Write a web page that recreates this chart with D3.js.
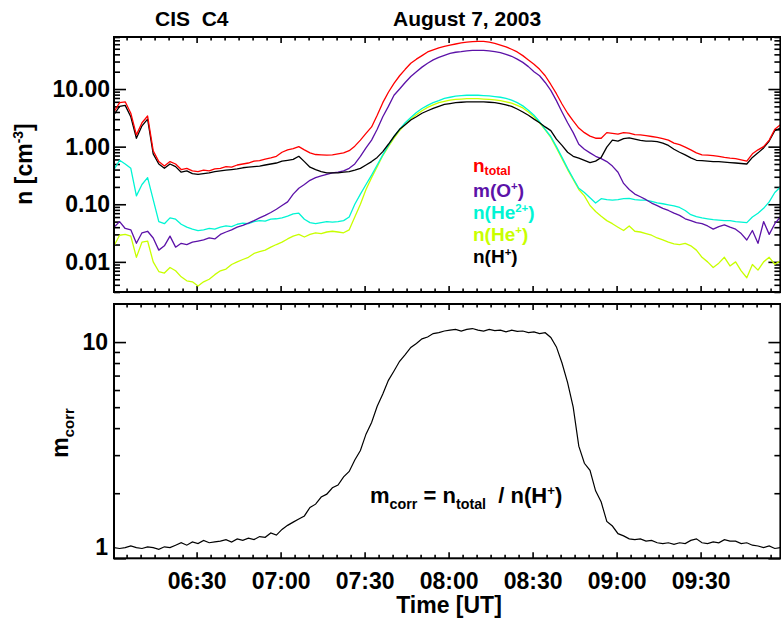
<!DOCTYPE html>
<html><head><meta charset="utf-8">
<script src="https://cdn.jsdelivr.net/npm/d3@7"></script>
<style>
html,body{margin:0;padding:0;background:#fff;}
svg{display:block;font-family:"Liberation Sans",Arial,Helvetica,sans-serif;font-weight:bold;}
</style></head><body>
<svg id="chart" width="781" height="618"></svg>
<script>
// ---------- DATA ----------
const startMin = 360.5, stepMin = 2;           // 06:00:30 UT, 2-minute samples
const times = d3.range(120).map(i => startMin + stepMin * i);

const nTotal = [
4.0, 5.8, 6.0, 3.8, 1.6, 2.6, 3.4, 0.85, 0.55, 0.46,
0.55, 0.50, 0.40, 0.42, 0.38, 0.37, 0.39, 0.38, 0.41, 0.42,
0.45, 0.44, 0.48, 0.50, 0.52, 0.56, 0.57, 0.61, 0.64, 0.68,
0.80, 0.88, 0.92, 1.00, 0.88, 0.78, 0.73, 0.72, 0.71, 0.72,
0.75, 0.78, 0.85, 1.02, 1.3, 1.7, 2.2, 3.5, 5.8, 8.8,
12.5, 17, 22, 28, 33, 38, 44, 48, 52, 55,
58, 60.5, 63, 65, 66.5, 67, 67, 65, 62, 58,
54, 49, 44, 38, 32, 27, 22, 17, 12, 8.3,
5.5, 3.8, 2.8, 2.1, 1.75, 1.52, 1.40, 1.40, 1.75, 1.70,
1.65, 1.75, 1.72, 1.62, 1.60, 1.55, 1.50, 1.45, 1.38, 1.30,
1.15, 1.08, 0.98, 0.88, 0.78, 0.72, 0.71, 0.70, 0.68, 0.65,
0.63, 0.62, 0.59, 0.56, 0.75, 0.88, 1.0, 1.3, 2.0, 2.4
];
const nH = [
3.6, 5.0, 5.2, 3.3, 1.4, 2.3, 3.0, 0.75, 0.50, 0.42,
0.50, 0.45, 0.36, 0.38, 0.34, 0.33, 0.34, 0.35, 0.37, 0.38,
0.39, 0.40, 0.41, 0.43, 0.44, 0.45, 0.46, 0.48, 0.50, 0.52,
0.56, 0.58, 0.60, 0.68, 0.55, 0.44, 0.40, 0.37, 0.35, 0.35,
0.35, 0.36, 0.37, 0.39, 0.42, 0.48, 0.55, 0.65, 0.82, 1.1,
1.5, 2.0, 2.4, 2.9, 3.3, 3.8, 4.2, 4.6, 5.0, 5.4,
5.6, 5.8, 5.9, 6.0, 6.0, 6.0, 6.0, 5.9, 5.8, 5.6,
5.3, 5.0, 4.5, 4.0, 3.5, 3.0, 2.6, 2.2, 1.9, 1.35,
1.05, 0.80, 0.68, 0.63, 0.58, 0.53, 0.56, 0.65, 0.98, 1.30,
1.25, 1.38, 1.42, 1.35, 1.28, 1.25, 1.25, 1.22, 1.15, 1.05,
0.90, 0.80, 0.72, 0.64, 0.58, 0.57, 0.56, 0.55, 0.55, 0.54,
0.53, 0.52, 0.51, 0.50, 0.65, 0.78, 0.95, 1.25, 1.9, 2.1
];
const nO = [
0.040, 0.050, 0.038, 0.036, 0.021, 0.032, 0.034, 0.026, 0.016, 0.019,
0.028, 0.018, 0.021, 0.020, 0.022, 0.023, 0.024, 0.026, 0.025, 0.030,
0.033, 0.036, 0.040, 0.043, 0.047, 0.052, 0.058, 0.064, 0.072, 0.082,
0.095, 0.11, 0.15, 0.19, 0.22, 0.26, 0.29, 0.31, 0.33, 0.35,
0.36, 0.38, 0.42, 0.50, 0.68, 0.95, 1.3, 2.0, 3.3, 5.0,
7.8, 10, 13, 16.5, 20, 24, 28, 32, 35.5, 38.5,
41.5, 43.5, 44.5, 46, 47, 47, 47, 46, 44.5, 43,
40, 37, 33, 29, 24.5, 20, 17, 13, 9.5, 6.3,
4.0, 2.6, 1.75, 1.1, 0.90, 0.78, 0.68, 0.62, 0.55, 0.46,
0.36, 0.23, 0.18, 0.15, 0.135, 0.12, 0.105, 0.095, 0.085, 0.078,
0.070, 0.064, 0.056, 0.052, 0.048, 0.046, 0.042, 0.037, 0.041, 0.044,
0.040, 0.037, 0.031, 0.024, 0.035, 0.021, 0.050, 0.030, 0.046, 0.060
];
const nHe2 = [
0.40, 0.58, 0.50, 0.42, 0.14, 0.22, 0.29, 0.12, 0.050, 0.046,
0.058, 0.055, 0.045, 0.040, 0.037, 0.035, 0.036, 0.038, 0.037, 0.040,
0.042, 0.041, 0.045, 0.047, 0.046, 0.050, 0.052, 0.051, 0.055, 0.056,
0.058, 0.062, 0.068, 0.070, 0.055, 0.048, 0.046, 0.048, 0.050, 0.049,
0.050, 0.052, 0.060, 0.10, 0.15, 0.22, 0.32, 0.48, 0.72, 1.05,
1.5, 2.0, 2.6, 3.2, 3.9, 4.6, 5.2, 5.8, 6.3, 6.9,
7.2, 7.5, 7.7, 7.8, 7.8, 7.8, 7.7, 7.6, 7.4, 7.2,
6.9, 6.4, 5.8, 5.1, 4.3, 3.5, 2.7, 2.0, 1.5, 1.0,
0.65, 0.42, 0.28, 0.19, 0.16, 0.13, 0.105, 0.125, 0.12, 0.118,
0.12, 0.125, 0.127, 0.12, 0.118, 0.118, 0.112, 0.106, 0.102, 0.098,
0.094, 0.088, 0.078, 0.066, 0.061, 0.058, 0.056, 0.054, 0.053, 0.052,
0.052, 0.050, 0.049, 0.048, 0.060, 0.070, 0.085, 0.11, 0.16, 0.20
];
const nHe1 = [
0.019, 0.029, 0.030, 0.028, 0.012, 0.022, 0.023, 0.010, 0.0068, 0.0064,
0.0080, 0.0070, 0.0055, 0.0047, 0.0045, 0.0038, 0.0045, 0.0050, 0.0060, 0.0070,
0.0075, 0.0090, 0.0100, 0.0110, 0.012, 0.014, 0.015, 0.016, 0.018, 0.020,
0.022, 0.025, 0.028, 0.030, 0.027, 0.030, 0.032, 0.031, 0.033, 0.034,
0.033, 0.032, 0.036, 0.060, 0.10, 0.18, 0.29, 0.45, 0.70, 1.0,
1.4, 1.9, 2.45, 3.0, 3.6, 4.2, 4.8, 5.3, 5.8, 6.1,
6.4, 6.6, 6.7, 6.8, 6.8, 6.8, 6.7, 6.6, 6.5, 6.3,
6.0, 5.7, 5.2, 4.7, 4.0, 3.3, 2.6, 1.95, 1.45, 0.95,
0.62, 0.40, 0.27, 0.18, 0.14, 0.095, 0.075, 0.062, 0.052, 0.046,
0.040, 0.035, 0.042, 0.034, 0.033, 0.031, 0.029, 0.026, 0.024, 0.022,
0.0205, 0.020, 0.021, 0.019, 0.016, 0.012, 0.010, 0.008, 0.0095, 0.012,
0.0085, 0.010, 0.0070, 0.0053, 0.0090, 0.0072, 0.010, 0.012, 0.0091, 0.0104
];
const mCorr = [
1.12, 1.11, 1.12, 1.14, 1.12, 1.11, 1.13, 1.12, 1.10, 1.13,
1.12, 1.15, 1.18, 1.15, 1.19, 1.17, 1.21, 1.18, 1.19, 1.20,
1.22, 1.19, 1.23, 1.21, 1.24, 1.22, 1.26, 1.25, 1.31, 1.28,
1.36, 1.42, 1.47, 1.52, 1.57, 1.72, 1.78, 1.92, 1.98, 2.12,
2.18, 2.38, 2.52, 2.85, 3.15, 3.75, 4.25, 5.05, 5.75, 6.65,
7.35, 8.15, 8.75, 9.45, 9.85, 10.35, 10.55, 10.95, 11.05, 11.25,
11.35, 11.45, 11.25, 11.45, 11.55, 11.35, 11.25, 11.45, 11.3, 11.35,
11.15, 11.35, 11.2, 11.25, 11.05, 11.15, 10.95, 11.05, 10.5, 9.5,
8.0, 6.5, 5.0, 3.3, 2.75, 2.55, 2.05, 1.82, 1.48, 1.41,
1.30, 1.27, 1.23, 1.22, 1.23, 1.20, 1.21, 1.18, 1.17, 1.18,
1.16, 1.18, 1.17, 1.21, 1.23, 1.18, 1.17, 1.19, 1.18, 1.22,
1.20, 1.20, 1.17, 1.18, 1.15, 1.14, 1.12, 1.14, 1.11, 1.12
];

const xMajorTicks = [390, 420, 450, 480, 510, 540, 570];
const xTickLabels = ["06:30", "07:00", "07:30", "08:00", "08:30", "09:00", "09:30"];
const yTopTicks = [0.01, 0.1, 1, 10];
const yTopLabels = ["0.01", "0.10", "1.00", "10.00"];
const yBotTicks = [1, 10];
const yBotLabels = ["1", "10"];

const seriesTop = [
  {name: "nHe1", values: nHe1, color: "#c8ff00"},
  {name: "nHe2", values: nHe2, color: "#00f5d4"},
  {name: "nO",   values: nO,   color: "#5c12a8"},
  {name: "nH",   values: nH,   color: "#000000"},
  {name: "nTotal", values: nTotal, color: "#ff0000"}
];

// ---------- LAYOUT ----------
const svg = d3.select("#chart");
svg.append("rect").attr("width", 781).attr("height", 618).attr("fill", "#fff");
const L = 114, R = 780.4;
const top1 = 37, bot1 = 292, top2 = 304, bot2 = 558.3;
const x = d3.scaleLinear().domain([360.5, 598.5]).range([L, R]);
const y1 = d3.scaleLog().domain([0.003, 80]).range([bot1, top1]);
const y2 = d3.scaleLog().domain([1, 15]).range([bot2, top2]);

const xMinor = d3.range(365, 598, 5).filter(m => m % 30 !== 0);
function logMinor(domain) {
  const out = [];
  for (let e = -4; e <= 3; e++) for (let m = 2; m <= 9; m++) {
    const v = m * Math.pow(10, e);
    if (v >= domain[0] * 0.999 && v <= domain[1] * 1.001) out.push(+v.toPrecision(3));
  }
  return out;
}

function cleanAxis(g) {
  g.select(".domain").remove();
  g.attr("font-family", null).attr("font-size", null);
  g.selectAll(".tick line").attr("stroke-width", 1.6);
}

function panel(yScale, top, bottom, yMajor, yLabels, labelPad, labelSize, showXLabels, clipId) {
  svg.append("clipPath").attr("id", clipId).append("rect")
    .attr("x", L).attr("y", top).attr("width", R - L).attr("height", bottom - top);

  svg.append("g").attr("transform", `translate(${L},0)`)
    .call(d3.axisLeft(yScale).tickValues(yMajor).tickSize(-12).tickPadding(labelPad)
      .tickFormat((d, i) => yLabels[i]))
    .call(cleanAxis)
    .selectAll("text").attr("font-size", labelSize).attr("font-weight", "bold").attr("fill", "#000");
  svg.append("g").attr("transform", `translate(${L},0)`)
    .call(d3.axisLeft(yScale).tickValues(logMinor(yScale.domain())).tickSize(-6).tickFormat(""))
    .call(cleanAxis);
  svg.append("g").attr("transform", `translate(${R},0)`)
    .call(d3.axisRight(yScale).tickValues(yMajor).tickSize(-12).tickFormat(""))
    .call(cleanAxis);
  svg.append("g").attr("transform", `translate(${R},0)`)
    .call(d3.axisRight(yScale).tickValues(logMinor(yScale.domain())).tickSize(-6).tickFormat(""))
    .call(cleanAxis);
  svg.append("g").attr("transform", `translate(0,${top})`)
    .call(d3.axisTop(x).tickValues(xMajorTicks).tickSize(-6).tickFormat(""))
    .call(cleanAxis);
  svg.append("g").attr("transform", `translate(0,${top})`)
    .call(d3.axisTop(x).tickValues(xMinor).tickSize(-3.5).tickFormat(""))
    .call(cleanAxis);
  const gb = svg.append("g").attr("transform", `translate(0,${bottom})`)
    .call(d3.axisBottom(x).tickValues(xMajorTicks).tickSize(-6).tickPadding(14)
      .tickFormat((d, i) => showXLabels ? xTickLabels[i] : ""))
    .call(cleanAxis);
  gb.selectAll("text").attr("font-size", 23).attr("font-weight", "bold").attr("fill", "#000");
  svg.append("g").attr("transform", `translate(0,${bottom})`)
    .call(d3.axisBottom(x).tickValues(xMinor).tickSize(-3.5).tickFormat(""))
    .call(cleanAxis);
}

panel(y1, top1, bot1, yTopTicks, yTopLabels, 4, 23, false, "clipTop");
panel(y2, top2, bot2, yBotTicks, yBotLabels, 6, 23, true, "clipBot");

// "1" label in bottom panel sits slightly above its tick in the original
svg.selectAll("text").filter(function(){ return this.textContent === "1"; })
  .attr("dy", "-0.15em");

// ---------- DATA LINES ----------
const lineTop = d3.line().x((d, i) => x(times[i])).y(d => y1(d));
const gTop = svg.append("g").attr("clip-path", "url(#clipTop)");
seriesTop.forEach(s => {
  gTop.append("path").datum(s.values).attr("d", lineTop)
    .attr("fill", "none").attr("stroke", s.color).attr("stroke-width", 1.3)
    .attr("stroke-linejoin", "round");
});
const lineBot = d3.line().x((d, i) => x(times[i])).y(d => y2(d));
svg.append("g").attr("clip-path", "url(#clipBot)")
  .append("path").datum(mCorr).attr("d", lineBot)
  .attr("fill", "none").attr("stroke", "#000").attr("stroke-width", 1.2);

// ---------- FRAMES ----------
[[top1, bot1], [top2, bot2]].forEach(([t, b]) => {
  svg.append("rect").attr("x", L).attr("y", t).attr("width", R - L).attr("height", b - t)
    .attr("fill", "none").attr("stroke", "#000").attr("stroke-width", 2);
});

// ---------- TEXT ----------
function rich(g, x0, y0, parts, size, color, anchor, subShift) {
  const t = g.append("text").attr("x", x0).attr("y", y0).attr("fill", color)
    .attr("font-size", size).attr("font-weight", "bold");
  if (anchor) t.attr("text-anchor", anchor);
  let shift = 0;
  parts.forEach(p => {
    const ts = t.append("tspan").text(p.t);
    let target = 0, fs = size;
    if (p.sub) { target = size * (subShift || 0.25); fs = size * 0.65; }
    if (p.sup) { target = -size * 0.38; fs = size * 0.6; }
    ts.attr("dy", target - shift).attr("font-size", fs);
    shift = target;
  });
  return t;
}

svg.append("text").attr("x", 155).attr("y", 26).attr("font-size", 21).attr("font-weight", "bold")
  .style("white-space", "pre").text("CIS  C4");
svg.append("text").attr("x", 393).attr("y", 26).attr("font-size", 21).attr("font-weight", "bold")
  .text("August 7, 2003");

// legend
const legend = [
  {parts: [{t: "n"}, {t: "total", sub: true}], color: "#ff0000", y: 172},
  {parts: [{t: "m(O"}, {t: "+", sup: true}, {t: ")"}], color: "#5c12a8", y: 197},
  {parts: [{t: "n(He"}, {t: "2+", sup: true}, {t: ")"}], color: "#00f5d4", y: 219},
  {parts: [{t: "n(He"}, {t: "+", sup: true}, {t: ")"}], color: "#c8ff00", y: 241},
  {parts: [{t: "n(H"}, {t: "+", sup: true}, {t: ")"}], color: "#000000", y: 263}
];
legend.forEach(l => rich(svg, 473, l.y, l.parts, 19, l.color, null, 0.18));

// formula
rich(svg, 370, 503, [{t: "m"}, {t: "corr", sub: true}, {t: " = n"}, {t: "total", sub: true},
  {t: "  / n(H"}, {t: "+", sup: true}, {t: ")"}], 22, "#000").style("white-space", "pre");

// y-axis titles
const gy1 = svg.append("g").attr("transform", "translate(32,164) rotate(-90)");
rich(gy1, 0, 0, [{t: "n [cm"}, {t: "-3", sup: true}, {t: "]"}], 23, "#000", "middle");
const gy2 = svg.append("g").attr("transform", "translate(68,433) rotate(-90)");
rich(gy2, 0, 0, [{t: "m"}, {t: "corr", sub: true}], 23, "#000", "middle");

// x-axis title
svg.append("text").attr("x", 449).attr("y", 613).attr("text-anchor", "middle")
  .attr("font-size", 23).attr("font-weight", "bold").text("Time [UT]");
</script>
</body></html>
